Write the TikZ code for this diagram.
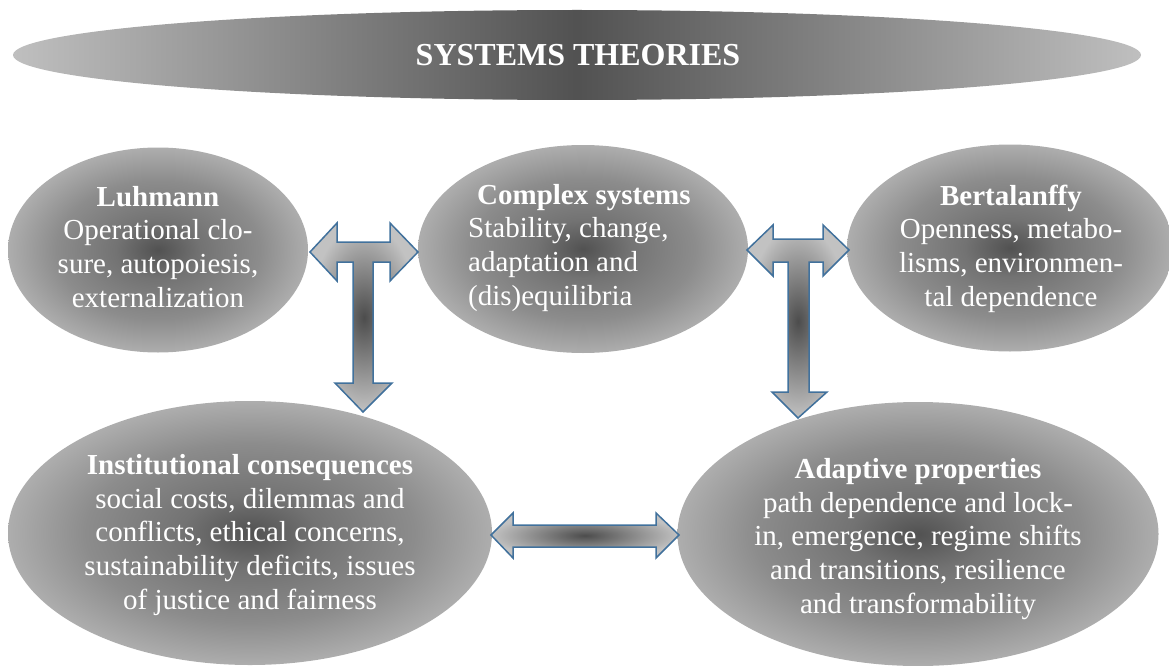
\documentclass[tikz,border=0pt]{standalone}
\usepackage{fontspec}
\setmainfont{Liberation Serif}
\usetikzlibrary{shapes.geometric}
\definecolor{arrowblue}{RGB}{65,113,156}
\pgfdeclareradialshading{ellshade}{\pgfpoint{0bp}{0bp}}{color(0bp)=(black!68); color(7bp)=(black!55); color(17bp)=(black!45); color(25bp)=(black!32); color(50bp)=(black!32)}
\pgfdeclareradialshading{arrshade}{\pgfpoint{0bp}{0bp}}{color(0bp)=(black!70); color(25bp)=(black!24); color(50bp)=(black!24)}
\begin{document}
\begin{tikzpicture}[x=1pt,y=-1pt,
  ell/.style={ellipse, draw=none, shading=ellshade, inner sep=0pt},
  txt/.style={text=white, font=\fontsize{29}{33.6}\selectfont, align=center, inner sep=0pt},
  blockarrow/.style={draw=arrowblue, line width=1.5pt, shading=arrshade, line join=miter}]
\useasboundingbox (0,0) rectangle (1169,666);
\clip (0,0) rectangle (1169,666);
% title
\node[ellipse, inner sep=0pt, minimum width=1128pt, minimum height=90pt,
      left color=black!25, right color=black!25, middle color=black!68] (title) at (577,55) {};
\node[text=white, font=\bfseries\fontsize{32}{38}\selectfont, anchor=base, inner sep=0pt] (titleT) at (578,66) {SYSTEMS THEORIES};
% ellipses
\node[ell, minimum width=300pt, minimum height=205pt] (luh) at (158,250) {};
\node[ell, minimum width=330pt, minimum height=208pt] (cs) at (583,249) {};
\node[ell, minimum width=326pt, minimum height=207pt] (bert) at (1010,248) {};
\node[ell, minimum width=484pt, minimum height=264pt] (inst) at (250,533) {};
\node[ell, minimum width=481pt, minimum height=264pt] (adap) at (918,534) {};
% texts (base anchor = baseline of the last line)
\node[txt, anchor=base] (luhT) at (158,307) {\textbf{Luhmann}\\Operational clo-\\sure, autopoiesis,\\externalization};
\node[txt, align=left, anchor=base west] (csT) at (468,305) {\hspace*{9pt}\textbf{Complex systems}\\Stability, change,\\adaptation and\\(dis)equilibria};
\node[txt, anchor=base] (bertT) at (1011,306) {\textbf{Bertalanffy}\\Openness, metabo-\\lisms, environmen-\\tal dependence};
\node[txt, anchor=base] (instT) at (250,609) {\textbf{Institutional consequences}\\social costs, dilemmas and\\conflicts, ethical concerns,\\sustainability deficits, issues\\of justice and fairness};
\node[txt, anchor=base] (adapT) at (918,613) {\textbf{Adaptive properties}\\path dependence and lock-\\in, emergence, regime shifts\\and transitions, resilience\\and transformability};
% block arrows
\draw[blockarrow] (310,252) -- (337,223) -- (337,242) -- (390,242) -- (390,223) -- (418,252)
  -- (390,281) -- (390,262) -- (373,262) -- (373,383) -- (392,383) -- (363,412)
  -- (335,383) -- (353,383) -- (353,262) -- (337,262) -- (337,281) -- cycle;
\draw[blockarrow] (747,250) -- (773,225) -- (773,239) -- (823,239) -- (823,225) -- (849,250)
  -- (823,276) -- (823,262) -- (809,262) -- (809,392) -- (827,392) -- (798,418)
  -- (772,392) -- (788,392) -- (788,262) -- (773,262) -- (773,276) -- cycle;
\draw[blockarrow] (491,535) -- (513,513) -- (513,525) -- (656,525) -- (656,513) -- (679,535)
  -- (656,558) -- (656,547) -- (513,547) -- (513,558) -- cycle;
\end{tikzpicture}
\end{document}
